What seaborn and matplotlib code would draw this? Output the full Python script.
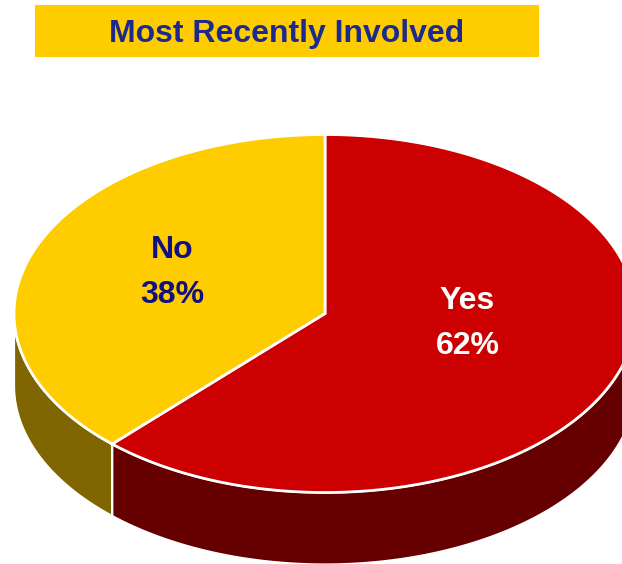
import numpy as np
import matplotlib
matplotlib.use("Agg")
import matplotlib.pyplot as plt
from matplotlib.patches import Polygon, Rectangle
import seaborn as sns

# Survey answers
categories = ["Yes", "No"]
shares = [62, 38]
title = "Most Recently Involved"

sns.set_style("white")
plt.rcParams["font.family"] = ["Liberation Sans", "DejaVu Sans"]

top_colors = sns.color_palette(["#CC0000", "#FFCC00"])
side_colors = sns.color_palette(["#660000", "#806600"])
label_colors = ["white", "#101080"]

W, H = 622, 564
fig = plt.figure(figsize=(W / 100, H / 100), dpi=100)
ax = fig.add_axes([0, 0, 1, 1])
ax.set_xlim(0, W)
ax.set_ylim(H, 0)
ax.axis("off")

# Pie geometry in pixel space (ellipse seen at a tilt, with a thick rim)
cx, cy = 325.0, 313.5
rx, ry = 311.0, 179.0
depth = 72.0
clip = Rectangle((14, 0), W - 14, H, transform=ax.transData)


def pt(theta_deg, dy=0.0):
    t = np.radians(theta_deg)
    return cx + rx * np.cos(t), cy - ry * np.sin(t) + dy


fr = np.array(shares, dtype=float) / sum(shares)
starts = 90 - np.concatenate([[0], np.cumsum(fr)[:-1]]) * 360
ends = starts - fr * 360

# Rim: only the front half (angles between -180 and 0) is visible
for s, e, col in zip(starts, ends, side_colors):
    hi, lo = s, e
    # shift the slice range so that it overlaps the window [-180, 0]
    for k in (0, -360, 360):
        a, b = max(lo + k, -180), min(hi + k, 0)
        if b > a:
            th = np.linspace(a, b, 200)
            upper = [pt(t) for t in th]
            lower = [pt(t, depth) for t in th[::-1]]
            poly = Polygon(upper + lower, closed=True, facecolor=col,
                           edgecolor="white", linewidth=1.6, joinstyle="round")
            ax.add_patch(poly)
            poly.set_clip_path(clip)

# Top faces
for s, e, col in zip(starts, ends, top_colors):
    th = np.linspace(s, e, 400)
    pts = [(cx, cy)] + [pt(t) for t in th]
    poly = Polygon(pts, closed=True, facecolor=col, edgecolor="white",
                   linewidth=2.0, joinstyle="miter")
    ax.add_patch(poly)
    poly.set_clip_path(clip)

# Labels: category name over the percentage
for s, e, name, v, tc in zip(starts, ends, categories, shares, label_colors):
    mid = np.radians((s + e) / 2)
    lx = cx + 0.51 * rx * np.cos(mid) - 5
    ly = cy - 0.38 * ry * np.sin(mid) - 19
    ax.text(lx, ly - 11, name, ha="center", va="baseline", fontsize=23,
            fontweight="bold", color=tc)
    ax.text(lx, ly + 34, f"{v}%", ha="center", va="baseline", fontsize=23,
            fontweight="bold", color=tc)

# Title banner
ax.add_patch(Rectangle((35, 5), 504, 52, facecolor="#FFCC00", edgecolor="none"))
ax.text(287, 42, title, ha="center", va="baseline", fontsize=23,
        fontweight="bold", color="#1B2A8C")

fig.savefig("out.png", dpi=100, facecolor="white")
